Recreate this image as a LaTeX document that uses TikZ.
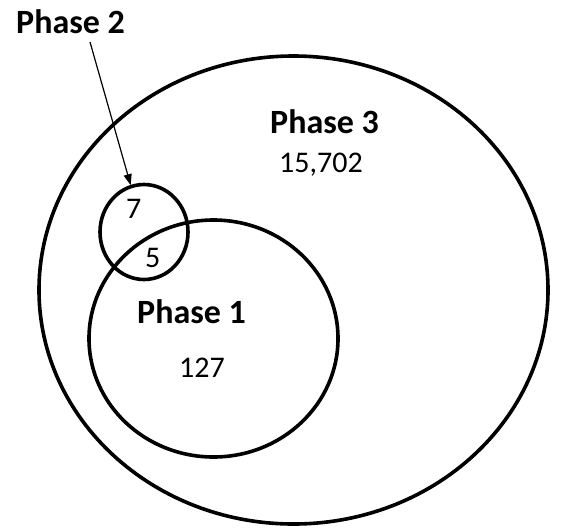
\documentclass[tikz,border=0pt]{standalone}
\usepackage{fontspec}
\setmainfont{Carlito}
\usetikzlibrary{shapes.geometric,arrows.meta}
\begin{document}
\begin{tikzpicture}[x=1pt,y=-1pt,
  ring/.style={draw,ellipse,line width=3.6pt,inner sep=0pt,outer sep=0pt},
  lbl/.style={font=\fontsize{34}{40}\selectfont\bfseries,anchor=base west,inner sep=0pt},
  num/.style={font=\fontsize{30}{36}\selectfont,anchor=base west,inner sep=0pt},
  pointer/.style={line width=1.2pt,-{Triangle[length=11pt,width=8pt]},shorten >=1.5pt}]
\useasboundingbox (0,0) rectangle (561,531);
\node[ring,minimum width=509pt,minimum height=468pt] (p3) at (293.5,290) {};
\node[ring,minimum width=249pt,minimum height=237pt] (p1) at (213.5,338.5) {};
\node[ring,minimum width=88pt,minimum height=95pt] (p2) at (144,232) {};
\node[lbl] (l2) at (16,33) {Phase 2};
\node[lbl] (l3) at (270,133) {Phase 3};
\node[num] (n3) at (279,172.5) {15,702};
\node[lbl] (l1) at (137,323) {Phase 1};
\node[num] (n1) at (179,377) {127};
\node[num] (n7) at (126,218) {7};
\node[num] (n5) at (145,267.5) {5};
\draw[pointer] ([xshift=74pt,yshift=-9pt]l2.base west) -- (p2);
\end{tikzpicture}
\end{document}
